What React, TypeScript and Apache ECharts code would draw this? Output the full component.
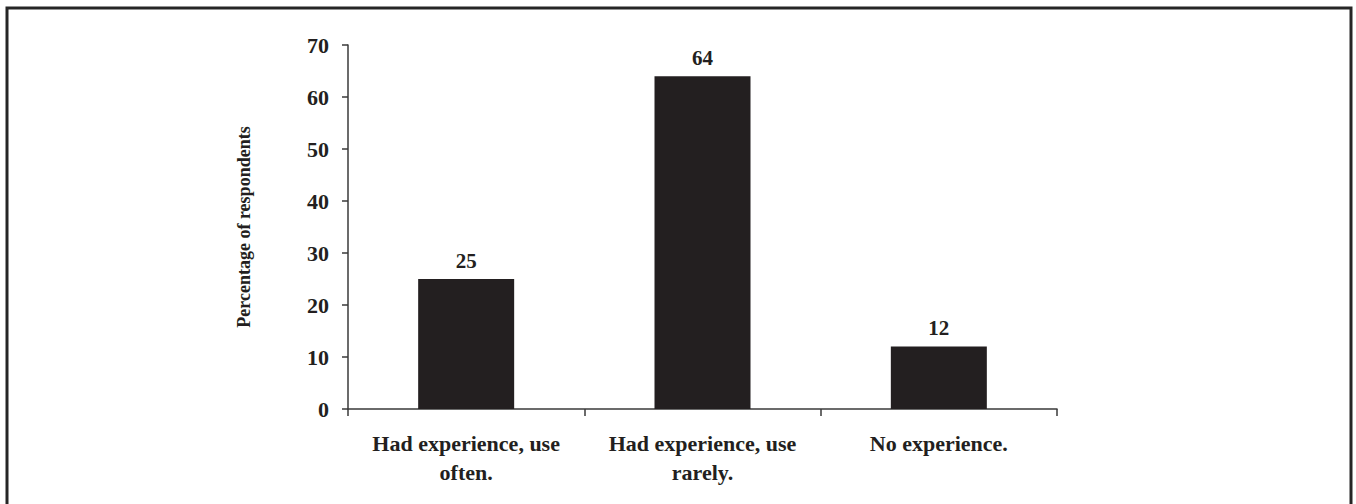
import React, { useEffect, useRef } from "react";
import * as echarts from "echarts";

const categories = ["Had experience, use\noften.", "Had experience, use\nrarely.", "No experience."];
const values = [25, 64, 12];
const yTicks = { min: 0, max: 70, interval: 10 };
const yTitle = "Percentage of respondents";

const INK = "#231f20";
const FONT = "'Liberation Serif', 'Times New Roman', serif";

export default function App() {
  const ref = useRef<HTMLDivElement>(null);
  useEffect(() => {
    if (!ref.current) return;
    const chart = echarts.init(ref.current, null, { renderer: "svg" });
    chart.setOption({
      animation: false,
      backgroundColor: "#ffffff",
      grid: { left: 348, right: 299, top: 45, bottom: 95, containLabel: false },
      xAxis: {
        type: "category",
        data: categories,
        axisLine: { lineStyle: { color: "#3a3a3a", width: 1.5 } },
        axisTick: { show: true, length: 7, lineStyle: { color: "#3a3a3a", width: 1.5 } },
        axisLabel: {
          interval: 0,
          margin: 20,
          color: INK,
          fontFamily: FONT,
          fontWeight: "bold",
          fontSize: 22,
          lineHeight: 29,
          verticalAlign: "top",
        },
      },
      yAxis: {
        type: "value",
        min: yTicks.min,
        max: yTicks.max,
        interval: yTicks.interval,
        name: yTitle,
        nameLocation: "middle",
        nameGap: 95,
        nameRotate: 90,
        nameTextStyle: { color: INK, fontFamily: FONT, fontWeight: "bold", fontSize: 18 },
        axisLine: { show: true, lineStyle: { color: "#3a3a3a", width: 1.5 } },
        axisTick: { show: true, length: 6, lineStyle: { color: "#3a3a3a", width: 1.5 } },
        splitLine: { show: false },
        axisLabel: {
          margin: 19,
          color: INK,
          fontFamily: FONT,
          fontWeight: "bold",
          fontSize: 22,
        },
      },
      series: [
        {
          type: "bar",
          data: values,
          barWidth: 96,
          itemStyle: { color: INK },
          label: {
            show: true,
            position: "top",
            distance: 8,
            color: INK,
            fontFamily: FONT,
            fontWeight: "bold",
            fontSize: 21,
          },
        },
      ],
      graphic: [
        {
          type: "polyline",
          shape: { points: [[7, 520], [7, 8], [1351, 8], [1351, 520]] },
          style: { stroke: "#262626", lineWidth: 3, fill: "none" },
          silent: true,
        },
      ],
    });
    return () => chart.dispose();
  }, []);
  return (
    <div
      ref={ref}
      style={{ position: "absolute", left: 0, top: 0, width: 1356, height: 504 }}
    />
  );
}
